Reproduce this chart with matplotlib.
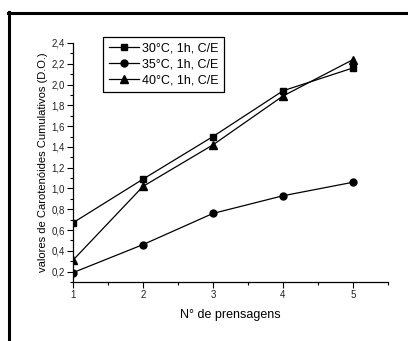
import matplotlib
matplotlib.use("Agg")
import matplotlib.pyplot as plt
from matplotlib.ticker import MultipleLocator, FuncFormatter
from matplotlib.lines import Line2D

plt.rcParams['font.family'] = ['Liberation Sans', 'DejaVu Sans']

x = [1, 2, 3, 4, 5]
labels = ["30°C, 1h, C/E", "35°C, 1h, C/E", "40°C, 1h, C/E"]
s30 = [0.67, 1.09, 1.50, 1.94, 2.16]
s35 = [0.19, 0.46, 0.76, 0.93, 1.06]
s40 = [0.31, 1.02, 1.42, 1.89, 2.24]
series = [s30, s35, s40]
markers = ['s', 'o', '^']
msizes = [4.5, 5, 5.5]

fig = plt.figure(figsize=(4.08, 3.41), dpi=100)
ax = fig.add_axes([73/408, 1-282/341, (388-73)/408, (282-43)/341])

for ys, lab, m, ms in zip(series, labels, markers, msizes):
    ax.plot(x, ys, color='black', lw=0.9, marker=m, markersize=ms, label=lab)

ax.set_xlim(1, 5.5)
ax.set_ylim(0.1, 2.4)
ax.xaxis.set_major_locator(MultipleLocator(1))
ax.xaxis.set_minor_locator(MultipleLocator(0.5))
ax.yaxis.set_major_locator(MultipleLocator(0.2))
ax.yaxis.set_minor_locator(MultipleLocator(0.1))
ax.yaxis.set_major_formatter(FuncFormatter(lambda v, p: f"{v:.1f}".replace('.', ',')))
ax.xaxis.set_major_formatter(FuncFormatter(lambda v, p: f"{int(round(v))}"))
for s in ['top', 'right']:
    ax.spines[s].set_visible(False)
for s in ['left', 'bottom']:
    ax.spines[s].set_linewidth(0.9)
ax.tick_params(which='major', direction='out', length=4, width=0.8, labelsize=7, pad=2,
               labelcolor='#222222')
ax.tick_params(which='minor', direction='out', length=2, width=0.8)

ax.set_xlabel("N° de prensagens", fontsize=9, labelpad=6)
ax.set_ylabel("valores de Carotenóides Cumulativos (D.O.)", fontsize=8, labelpad=2)

leg = fig.legend(loc='upper left', bbox_to_anchor=(103/408, 1-37/341), fontsize=9,
                 frameon=True, fancybox=False, edgecolor='black', framealpha=1,
                 handlelength=2.4, handletextpad=0.25, labelspacing=0.3,
                 borderpad=0.45, borderaxespad=0)
leg.get_frame().set_linewidth(0.9)

# outer frame (left and top lines)
fig.add_artist(Line2D([9/408, 9/408], [0, 1-12/341], transform=fig.transFigure, color='black', lw=2.2))
fig.add_artist(Line2D([8/408, 1], [1-13/341, 1-13/341], transform=fig.transFigure, color='black', lw=2.2))

fig.savefig("out.png", dpi=100)
